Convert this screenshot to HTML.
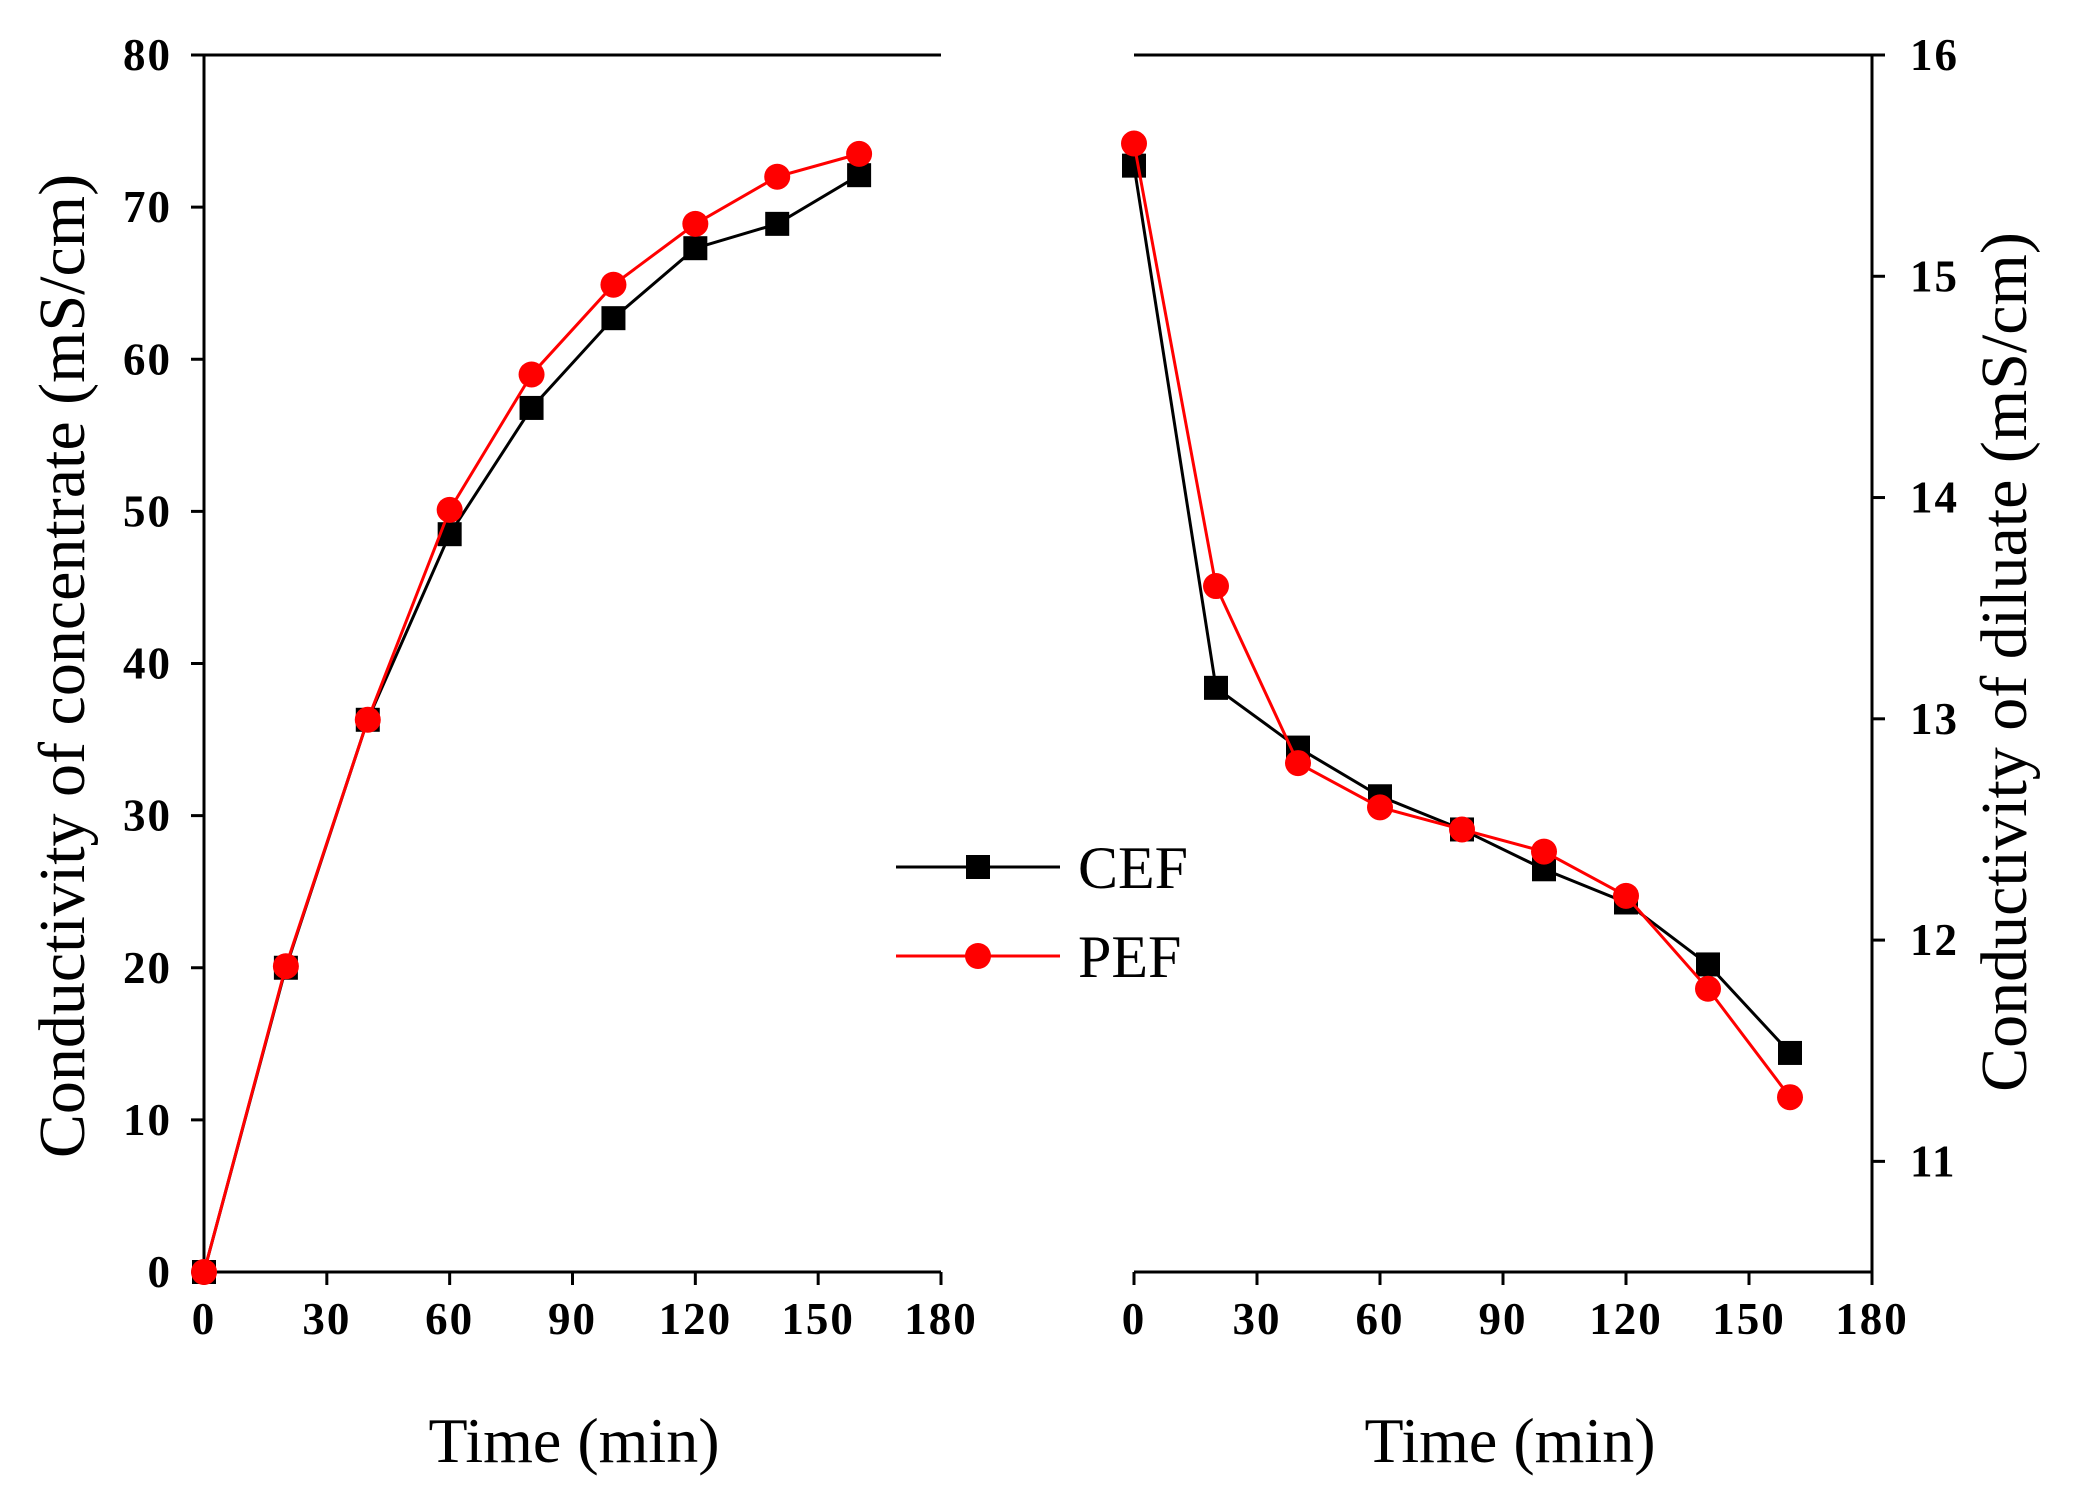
<!DOCTYPE html>
<html><head><meta charset="utf-8"><style>
html,body{margin:0;padding:0;background:#fff;}
svg{display:block;}
text{font-family:"Liberation Serif",serif;}
</style></head>
<body>
<svg id="chart" width="2076" height="1502" viewBox="0 0 2076 1502" xmlns="http://www.w3.org/2000/svg">
<g id="axes"></g>
<g id="series"></g>
<g id="legend">
  <line x1="896" y1="867" x2="1060" y2="867" stroke="#000" stroke-width="3"/>
  <rect x="966" y="855" width="24" height="24" fill="#000"/>
  <text x="1078" y="888" font-size="60">CEF</text>
  <line x1="896" y1="956" x2="1060" y2="956" stroke="#f00" stroke-width="3"/>
  <circle cx="978" cy="956" r="13" fill="#f00"/>
  <text x="1078" y="977" font-size="60">PEF</text>
</g>
<text x="574" y="1462" font-size="64" text-anchor="middle">Time (min)</text>
<text x="1510" y="1462" font-size="64" text-anchor="middle">Time (min)</text>
<text transform="translate(84,666) rotate(-90)" font-size="66" text-anchor="middle">Conductivity of concentrate (mS/cm)</text>
<text transform="translate(2026,662) rotate(-90)" font-size="66" text-anchor="middle">Conductivity of diluate (mS/cm)</text>
</svg>
<script>
const times = [0,20,40,60,80,100,120,140,160];
const concCEF = [0,20,36.3,48.5,56.8,62.7,67.3,68.9,72.1];
const concPEF = [0,20.1,36.3,50.1,59,64.9,68.9,72,73.5];
const dilCEF = [15.5,13.14,12.87,12.65,12.5,12.32,12.17,11.89,11.49];
const dilPEF = [15.6,13.6,12.8,12.6,12.5,12.4,12.2,11.78,11.29];
const xTicks = [0,30,60,90,120,150,180];
const leftYTicks = [0,10,20,30,40,50,60,70,80];
const rightYTicks = [11,12,13,14,15,16];

const NS='http://www.w3.org/2000/svg';
const TOP=55, BOT=1272;
const L={x0:204,x1:941}, R={x0:1134,x1:1872};
const lx=v=>L.x0+(v/180)*(L.x1-L.x0);
const rx=v=>R.x0+(v/180)*(R.x1-R.x0);
const ly=v=>BOT-(v/80)*(BOT-TOP);
const ry=v=>BOT-((v-10.5)/5.5)*(BOT-TOP);
const axes=document.getElementById('axes'), ser=document.getElementById('series');
function mk(tag,attrs,parent){const e=document.createElementNS(NS,tag);for(const k in attrs)e.setAttribute(k,attrs[k]);parent.appendChild(e);return e;}

let e;
e=mk('path',{d:`M${L.x0},${TOP} V${BOT} H${L.x1} M${L.x0},${TOP} H${L.x1}`,stroke:'#000','stroke-width':3,fill:'none'},axes);


e=mk('path',{d:`M${R.x1},${TOP} V${BOT} H${R.x0} M${R.x0},${TOP} H${R.x1}`,stroke:'#000','stroke-width':3,fill:'none'},axes);



const TF={'font-size':45,'font-weight':'bold','letter-spacing':'2'};
xTicks.forEach(t=>{
  [[lx,'left'],[rx,'right']].forEach(([f,s])=>{
    e=mk('line',{x1:f(t),x2:f(t),y1:BOT,y2:BOT+13,stroke:'#000','stroke-width':3},axes);
    
    
    e=mk('text',Object.assign({x:f(t),y:BOT+62,'text-anchor':'middle'},TF),axes);
    
    
    e.textContent=t;
  });
});
leftYTicks.forEach(t=>{
  e=mk('line',{x1:L.x0-13,x2:L.x0,y1:ly(t),y2:ly(t),stroke:'#000','stroke-width':3},axes);
  
  
  e=mk('text',Object.assign({x:L.x0-32,y:ly(t)+15,'text-anchor':'end'},TF),axes);
  
  
  e.textContent=t;
});
rightYTicks.forEach(t=>{
  e=mk('line',{x1:R.x1,x2:R.x1+13,y1:ry(t),y2:ry(t),stroke:'#000','stroke-width':3},axes);
  
  
  e=mk('text',Object.assign({x:R.x1+38,y:ry(t)+15,'text-anchor':'start'},TF),axes);
  
  
  e.textContent=t;
});

function drawSeries(vals,fx,fy,color,shape,name){
  const pts=times.map((t,i)=>fx(t)+','+fy(vals[i])).join(' ');
  e=mk('polyline',{points:pts,fill:'none',stroke:color,'stroke-width':3},ser);
  
  
  times.forEach((t,i)=>{
    if(shape==='square'){
      e=mk('rect',{x:fx(t)-12,y:fy(vals[i])-12,width:24,height:24,fill:color},ser);
    } else {
      e=mk('circle',{cx:fx(t),cy:fy(vals[i]),r:13,fill:color},ser);
    }
    
    
  });
}
drawSeries(concCEF,lx,ly,'#000','square','concentrate-cef');
drawSeries(concPEF,lx,ly,'#f00','circle','concentrate-pef');
drawSeries(dilCEF,rx,ry,'#000','square','diluate-cef');
drawSeries(dilPEF,rx,ry,'#f00','circle','diluate-pef');
</script>
</body></html>
